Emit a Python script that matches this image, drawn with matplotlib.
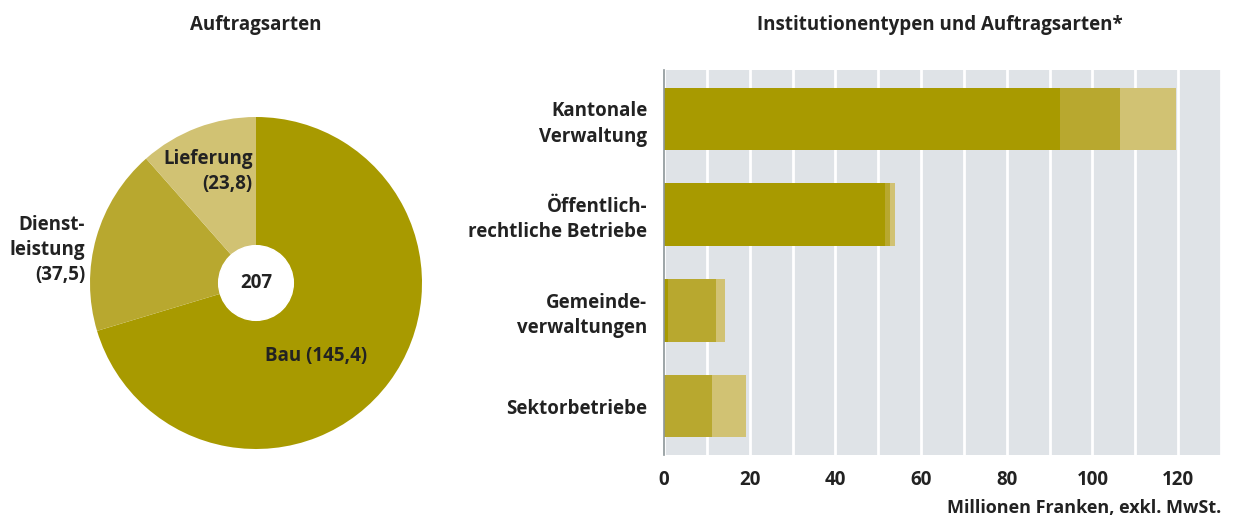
import matplotlib.pyplot as plt
import numpy as np

plt.rcParams["font.family"] = ["Open Sans", "DejaVu Sans"]

# Pie data: order types (Mio. CHF)
pie_labels = ["Bau (145,4)", "Dienst-\nleistung\n(37,5)", "Lieferung\n(23,8)"]
pie_values = [145.4, 37.5, 23.8]
total_label = "207"

# Bar data: institution types x order types
institutions = ["Kantonale\nVerwaltung", "Öffentlich-\nrechtliche Betriebe",
                "Gemeinde-\nverwaltungen", "Sektorbetriebe"]
bau = [92.4, 51.5, 0.9, 0.0]
dienst = [14.0, 1.2, 11.3, 11.3]
lieferung = [13.0, 1.1, 2.1, 7.9]
xticks = [0, 20, 40, 60, 80, 100, 120]

colors = ["#a89a00", "#b8a82f", "#d1c273"]
bg = "#dfe3e7"
txt = "#222222"
fs = 13.5

fig = plt.figure(figsize=(12.37, 5.18), dpi=100)

# ---- Pie ----
ax1 = fig.add_axes([90 / 1237, 69 / 518, 332 / 1237, 332 / 518])
ax1.pie(pie_values, colors=colors, startangle=90, counterclock=False,
        radius=1, wedgeprops=dict(linewidth=0))
ax1.add_patch(plt.Circle((0, 0), 0.225, color="white", zorder=5))
ax1.set_xlim(-1, 1)
ax1.set_ylim(-1, 1)
ax1.set_aspect("equal")
ax1.axis("off")
ax1.text(0, 0, total_label, ha="center", va="center", fontsize=fs,
         fontweight="bold", color=txt, zorder=6)
ax1.text(0.36, -0.44, pie_labels[0], ha="center", va="center", fontsize=fs,
         fontweight="bold", color=txt)
ax1.text(-1.03, 0.2, pie_labels[1], ha="right", va="center", fontsize=fs,
         fontweight="bold", color=txt, linespacing=1.35)
ax1.text(-0.02, 0.67, pie_labels[2], ha="right", va="center", fontsize=fs,
         fontweight="bold", color=txt, linespacing=1.35)
fig.text(256 / 1237, 1 - 25 / 518, "Auftragsarten", ha="center", va="center",
         fontsize=13.5, fontweight="bold", color=txt)

# ---- Stacked bars ----
ax2 = fig.add_axes([664 / 1237, 63 / 518, 557 / 1237, 385 / 518])
ax2.set_facecolor(bg)
y = np.arange(len(institutions))
h = 0.65
ax2.barh(y, bau, height=h, color=colors[0], zorder=3)
ax2.barh(y, dienst, left=bau, height=h, color=colors[1], zorder=3)
ax2.barh(y, lieferung, left=np.add(bau, dienst), height=h, color=colors[2], zorder=3)
ax2.set_xlim(0, 130)
ax2.set_ylim(3.51, -0.51)
ax2.set_xticks(np.arange(0, 131, 10), minor=True)
ax2.set_xticks(xticks)
ax2.grid(axis="x", which="both", color="white", linewidth=2, zorder=1)
ax2.set_axisbelow(True)
ax2.set_yticks(y)
ax2.set_yticklabels(institutions, fontsize=fs, fontweight="bold", color=txt,
                    linespacing=1.35)
ax2.tick_params(axis="both", which="both", length=0)
ax2.tick_params(axis="y", pad=12)
ax2.tick_params(axis="x", pad=11)
for lab in ax2.get_yticklabels():
    lab.set_horizontalalignment("right")
for lab in ax2.get_xticklabels():
    lab.set_fontsize(fs)
    lab.set_fontweight("bold")
    lab.set_color(txt)
for s in ["top", "right", "bottom"]:
    ax2.spines[s].set_visible(False)
ax2.spines["left"].set_color("#8c9698")
ax2.spines["left"].set_linewidth(1.2)
ax2.spines["left"].set_zorder(4)
ax2.set_xlabel("Millionen Franken, exkl. MwSt.", fontsize=13, fontweight="bold",
               color=txt, loc="right", labelpad=6)
fig.text(940 / 1237, 1 - 25 / 518, "Institutionentypen und Auftragsarten*",
         ha="center", va="center", fontsize=13.5, fontweight="bold", color=txt)

plt.savefig("out.png", dpi=100)
